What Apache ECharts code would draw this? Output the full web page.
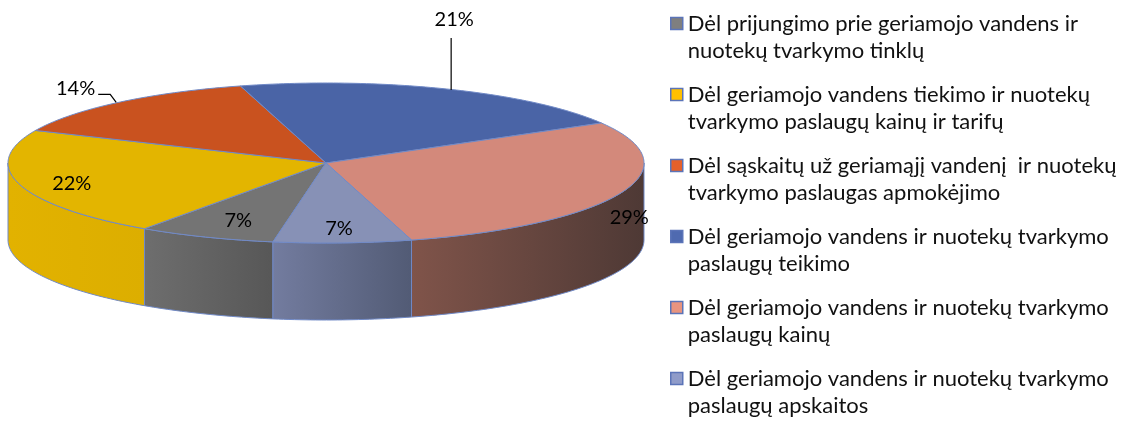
<!DOCTYPE html>
<html>
<head>
<meta charset="utf-8">
<script src="https://cdn.jsdelivr.net/npm/echarts@6/dist/echarts.min.js"></script>
<style>
  html, body { margin: 0; padding: 0; background: #fff; }
  #chart { width: 1136px; height: 423px; }
</style>
</head>
<body>
<div id="chart"></div>
<script>
// slices, in clockwise order
const categories = [
  'Dėl prijungimo prie geriamojo vandens ir nuotekų tvarkymo tinklų',
  'Dėl geriamojo vandens tiekimo ir nuotekų tvarkymo paslaugų kainų ir tarifų',
  'Dėl sąskaitų už geriamąjį vandenį  ir nuotekų tvarkymo paslaugas apmokėjimo',
  'Dėl geriamojo vandens ir nuotekų tvarkymo paslaugų teikimo',
  'Dėl geriamojo vandens ir nuotekų tvarkymo paslaugų kainų',
  'Dėl geriamojo vandens ir nuotekų tvarkymo paslaugų apskaitos'
];
const values = [7, 22, 14, 21, 29, 7];

const TOP_COLOR = ['#747474', '#E3B500', '#C9521F', '#4A64A6', '#D3897B', '#8791B6'];
const SIDE_COLOR = [
  ['#6E6E6E', '#575757'],
  ['#E2B200', '#DCAE00'],
  ['#C24E1E', '#A84419'],
  ['#46609E', '#3B5288'],
  ['#80544A', '#4E3935'],
  ['#737C9F', '#525B75']
];
const LEGEND_COLOR = ['#7F7F7F', '#FFC000', '#E5602A', '#4F6AB0', '#E8947F', '#8F9BC9'];
const LABEL_MODE = ['inside', 'inside', 'elbowLeft', 'up', 'edge', 'inside'];
const LABEL_R = [0.73, 0.83, 1, 1, 1.03, 0.78];
const EDGE_COLOR = '#7089C6';
const FONT = 'Lato, "Noto Sans", sans-serif';

// pseudo 3d pie layout (px)
const PIE = {cx: 326, cy: 163, rx: 318, ry: 80, depth: 77, startAngle: 189.6};

const total = values.reduce((a, b) => a + b, 0);
const starts = [];
let acc = PIE.startAngle;
values.forEach((v) => {
  starts.push(acc);
  acc += v / total * 360;
});

function pt(deg, dy = 0, k = 1) {
  const t = deg * Math.PI / 180;
  return [PIE.cx + PIE.rx * k * Math.sin(t), PIE.cy - PIE.ry * k * Math.cos(t) + dy];
}

function arcPoints(a0, a1, dy) {
  const pts = [];
  const n = Math.max(2, Math.ceil(Math.abs(a1 - a0)));
  for (let i = 0; i <= n; i++) {
    pts.push(pt(a0 + (a1 - a0) * i / n, dy));
  }
  return pts;
}

// wrap legend names the way the original does (about 47 chars per line)
function wrap(name, maxLen) {
  const words = name.split(' ');
  const lines = [];
  let line = '';
  words.forEach((w, i) => {
    const next = i === 0 ? w : line + ' ' + w;
    if (next.length > maxLen && line) {
      lines.push(line);
      line = w;
    } else {
      line = next;
    }
  });
  lines.push(line);
  return lines;
}

function makeRender(idx) {
  return function (params, api) {
    const a0 = starts[idx];
    const a1 = a0 + api.value(0) / total * 360;
    const children = [];

    // front wall: only the part facing the viewer (90..270 deg)
    [[90, 270], [450, 630]].forEach(([lo, hi]) => {
      const s = Math.max(a0, lo);
      const e = Math.min(a1, hi);
      if (e <= s) return;
      const top = arcPoints(s, e, 0);
      const bottom = arcPoints(e, s, PIE.depth);
      children.push({
        type: 'polygon',
        shape: {points: top.concat(bottom)},
        style: {
          fill: {
            type: 'linear', x: 0, y: 0, x2: 1, y2: 0,
            colorStops: [
              {offset: 0, color: SIDE_COLOR[idx][0]},
              {offset: 1, color: SIDE_COLOR[idx][1]}
            ]
          },
          stroke: EDGE_COLOR,
          lineWidth: 1
        }
      });
    });

    // top face
    children.push({
      type: 'polygon',
      shape: {points: [[PIE.cx, PIE.cy]].concat(arcPoints(a0, a1, 0))},
      style: {fill: TOP_COLOR[idx], stroke: EDGE_COLOR, lineWidth: 1}
    });

    // data label
    const mid = (a0 + a1) / 2;
    const text = Math.round(api.value(0) / total * 100) + '%';
    const textStyle = {text: text, fontSize: 20, fontFamily: FONT, fill: '#000'};
    const mode = LABEL_MODE[idx];
    const center = {align: 'center', verticalAlign: 'middle'};
    if (mode === 'inside') {
      const p = pt(mid, 3, LABEL_R[idx]);
      children.push({type: 'text', x: p[0], y: p[1], style: Object.assign(center, textStyle)});
    } else if (mode === 'edge') {
      const p = pt(mid, PIE.depth * 0.3, LABEL_R[idx]);
      children.push({type: 'text', x: p[0], y: p[1], style: Object.assign(center, textStyle)});
    } else if (mode === 'up') {
      const p = pt(mid, 0);
      const x = p[0] + 5;
      children.push({type: 'polyline', shape: {points: [[x, p[1] + 1], [x, p[1] - 51]]},
        style: {stroke: '#000', lineWidth: 1.2, fill: null}});
      children.push({type: 'text', x: x + 3, y: p[1] - 69, style: Object.assign(center, textStyle)});
    } else {
      const p = pt(mid, 0);
      const q = [p[0] - 8, p[1] - 8];
      const r = [q[0] - 12, q[1]];
      children.push({type: 'polyline', shape: {points: [[p[0] - 2, p[1]], q, r]},
        style: {stroke: '#000', lineWidth: 1.2, fill: null}});
      children.push({type: 'text', x: r[0] - 3, y: r[1] - 6,
        style: Object.assign({align: 'right', verticalAlign: 'middle'}, textStyle)});
    }

    return {type: 'group', children: children};
  };
}

const chart = echarts.init(document.getElementById('chart'));

const series = categories.map((name, i) => ({
  type: 'custom',
  name: name,
  coordinateSystem: 'none',
  silent: true,
  itemStyle: {color: LEGEND_COLOR[i]},
  data: [[values[i]]],
  renderItem: makeRender(i)
}));

chart.setOption({
  animation: false,
  legend: {
    orient: 'vertical',
    left: 665,
    top: -22,
    height: 700,
    itemGap: -10,
    itemWidth: 12,
    itemHeight: 12,
    icon: 'rect',
    selectedMode: false,
    data: categories.map((name, i) => ({
      name: name,
      itemStyle: {color: LEGEND_COLOR[i], borderColor: '#5B74B8', borderWidth: 1.5}
    })),
    // leading empty line keeps the icon level with the first text line
    formatter: (name) => '\n' + wrap(name, 47).join('\n'),
    textStyle: {
      fontFamily: FONT,
      fontSize: 22,
      lineHeight: 27,
      color: '#111'
    }
  },
  series: series
});
</script>
</body>
</html>
